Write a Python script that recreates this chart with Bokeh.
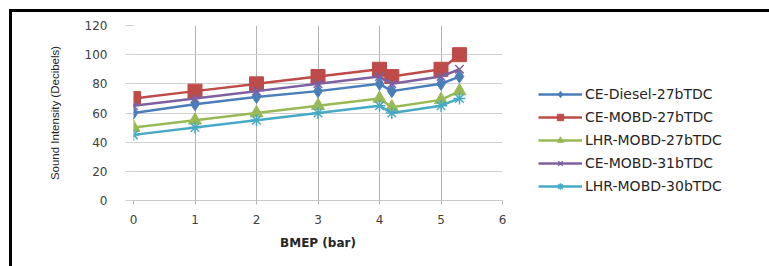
from bokeh.plotting import figure
from bokeh.models import Legend, LegendItem, FixedTicker
from bokeh.layouts import row
from bokeh.embed import file_html
from bokeh.resources import INLINE

bmep = [0, 1, 2, 3, 4, 4.2, 5, 5.3]
ce_diesel_27 = [60, 66, 71, 75, 80, 75, 80, 85]
ce_mobd_27 = [70, 75, 80, 85, 90, 85, 90, 100]
lhr_mobd_27 = [50, 55, 60, 65, 70, 64, 69, 75]
ce_mobd_31 = [65, 70, 75, 80, 85, 80, 85, 90]
lhr_mobd_30 = [45, 50, 55, 60, 65, 60, 65, 70]

series_names = ["CE-Diesel-27bTDC", "CE-MOBD-27bTDC", "LHR-MOBD-27bTDC",
                "CE-MOBD-31bTDC", "LHR-MOBD-30bTDC"]
x_ticks = [0, 1, 2, 3, 4, 5, 6]
y_ticks = [0, 20, 40, 60, 80, 100, 120]

H = 254
p = figure(width=500, height=H, output_backend="svg", toolbar_location=None,
           x_range=(0, 6), y_range=(0, 120),
           min_border_left=121, min_border_right=10,
           min_border_top=13, min_border_bottom=66)

p.outline_line_color = None
p.background_fill_color = "white"
p.border_fill_color = "white"

grid_col = "#b3b3b3"
p.xgrid.ticker = FixedTicker(ticks=x_ticks)
p.ygrid.ticker = FixedTicker(ticks=y_ticks)
p.xgrid.grid_line_color = grid_col
p.ygrid.grid_line_color = "#d0d0d0"

for ax in p.xaxis:
    ax.ticker = FixedTicker(ticks=x_ticks)
    ax.axis_line_color = "#c8c8c8"
    ax.major_tick_line_color = grid_col
    ax.major_tick_out = 4
    ax.major_tick_in = 0
    ax.minor_tick_line_color = None
    ax.major_label_standoff = 10
    ax.major_label_text_font = "DejaVu Sans"
    ax.major_label_text_font_size = "12px"
    ax.major_label_text_color = "#404040"
    ax.axis_label = "BMEP (bar)"
    ax.axis_label_text_font = "DejaVu Sans"
    ax.axis_label_text_font_style = "bold"
    ax.axis_label_text_font_size = "12px"
    ax.axis_label_text_color = "#262626"
    ax.axis_label_standoff = 9

for ax in p.yaxis:
    ax.ticker = FixedTicker(ticks=y_ticks)
    ax.axis_line_color = None
    ax.major_tick_line_color = "#d0d0d0"
    ax.major_tick_out = 8
    ax.major_tick_in = 0
    ax.minor_tick_line_color = None
    ax.major_label_standoff = 18
    ax.major_label_text_font = "DejaVu Sans"
    ax.major_label_text_font_size = "12px"
    ax.major_label_text_color = "#404040"
    ax.axis_label = "Sound Intensity (Decibels)"
    ax.axis_label_text_font = "Liberation Sans"
    ax.axis_label_text_font_style = "normal"
    ax.axis_label_text_font_size = "11.5px"
    ax.axis_label_text_color = "#262626"
    ax.axis_label_standoff = 21

colors = ["#4A7EBB", "#BE4B48", "#98B954", "#7D60A0", "#46AAC5"]
data = [ce_diesel_27, ce_mobd_27, lhr_mobd_27, ce_mobd_31, lhr_mobd_30]
markers = ["diamond", "square", "triangle", "x", "asterisk"]
sizes = [13, 14, 13, 12, 12]
legend_sizes = [10, 11, 10, 10, 10]

# legend panel: a separate axis-less figure whose ranges leave its copies of the series off-view
lg = figure(width=257, height=H, output_backend="svg", toolbar_location=None,
            x_range=(100, 101), y_range=(1000, 1001), x_axis_type=None, y_axis_type=None,
            min_border=0)
lg.outline_line_color = None
lg.xgrid.visible = False
lg.ygrid.visible = False

items = []
for name, ys, c, m, s, ls in zip(series_names, data, colors, markers, sizes, legend_sizes):
    lw = 1.5 if m in ("x", "asterisk") else 1
    p.line(bmep, ys, line_color=c, line_width=2.5)
    p.scatter(bmep, ys, marker=m, size=s, fill_color=c, line_color=c, line_width=lw)
    ln = lg.line(bmep, ys, line_color=c, line_width=2.5)
    sc = lg.scatter(bmep, ys, marker=m, size=ls, fill_color=c, line_color=c, line_width=lw)
    items.append(LegendItem(label=name, renderers=[ln, sc], index=0))

legend = Legend(items=items, location=(26, 6))
legend.border_line_color = None
legend.background_fill_alpha = 0
legend.padding = 0
legend.margin = 0
legend.spacing = 7
legend.glyph_width = 44
legend.glyph_height = 16
legend.label_height = 16
legend.label_standoff = 3
legend.label_text_font = "DejaVu Sans"
legend.label_text_font_size = "14px"
legend.label_text_color = "#262626"
lg.add_layout(legend, "center")

layout = row(p, lg, spacing=0)
layout.styles = {"margin-left": "9px", "margin-top": "9px",
                 "border-top": "3px solid black", "border-left": "3px solid black"}

open("out.html", "w").write(file_html(layout, INLINE))
